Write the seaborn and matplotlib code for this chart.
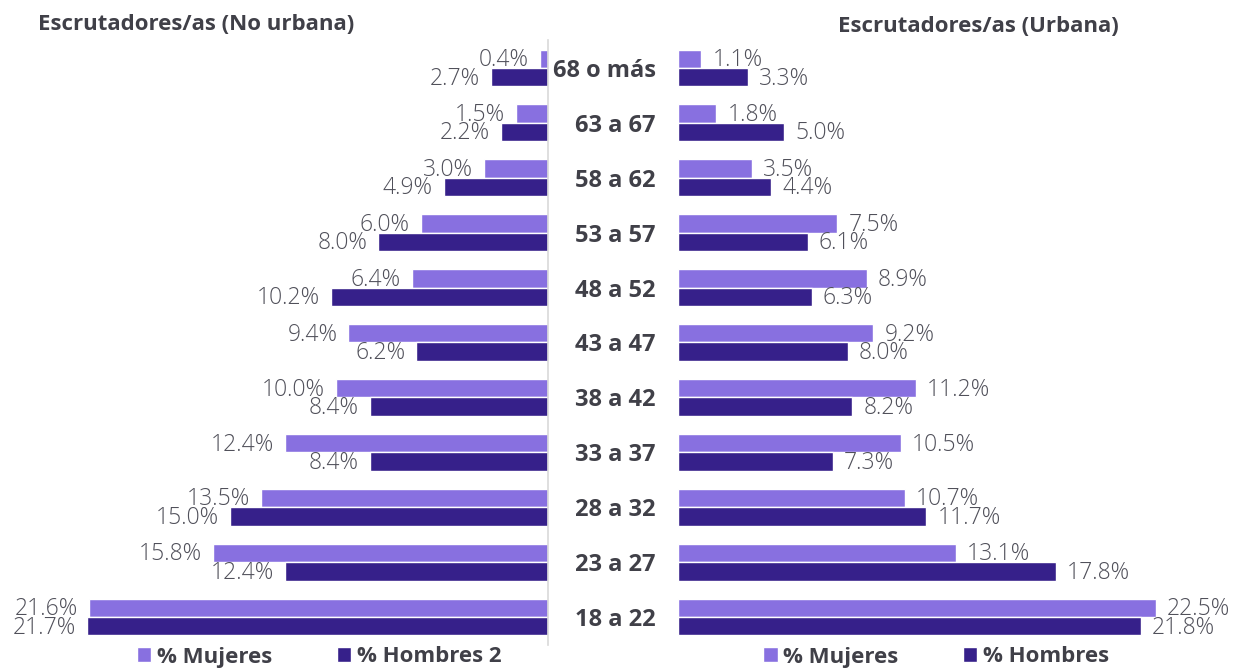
import pandas as pd
import seaborn as sns
import matplotlib.pyplot as plt

# Age groups, top to bottom
grupos = ["68 o más", "63 a 67", "58 a 62", "53 a 57", "48 a 52", "43 a 47",
          "38 a 42", "33 a 37", "28 a 32", "23 a 27", "18 a 22"]

# No urbana
nu_mujeres = [0.4, 1.5, 3.0, 6.0, 6.4, 9.4, 10.0, 12.4, 13.5, 15.8, 21.6]
nu_hombres = [2.7, 2.2, 4.9, 8.0, 10.2, 6.2, 8.4, 8.4, 15.0, 12.4, 21.7]

# Urbana
u_mujeres = [1.1, 1.8, 3.5, 7.5, 8.9, 9.2, 11.2, 10.5, 10.7, 13.1, 22.5]
u_hombres = [3.3, 5.0, 4.4, 6.1, 6.3, 8.0, 8.2, 7.3, 11.7, 17.8, 21.8]

c_mujeres = "#8870E0"
c_hombres = "#36208A"
txt_dark = "#404048"
txt_val = "#50505A"

sns.set_style("white")
plt.rcParams["font.family"] = ["Open Sans", "DejaVu Sans"]


def to_long(mujeres, hombres, lab_m, lab_h):
    rows = []
    for g, m, h in zip(grupos, mujeres, hombres):
        rows.append({"grupo": g, "sexo": lab_m, "pct": m})
        rows.append({"grupo": g, "sexo": lab_h, "pct": h})
    return pd.DataFrame(rows)


df_nu = to_long(nu_mujeres, nu_hombres, "% Mujeres", "% Hombres 2")
df_u = to_long(u_mujeres, u_hombres, "% Mujeres", "% Hombres")

W, H = 1236, 670
fig = plt.figure(figsize=(W / 100, H / 100), dpi=100)
bottom = 1 - 644.5 / H
height = 604 / H
ax_l = fig.add_axes([30 / W, bottom, 518 / W, height])
ax_r = fig.add_axes([678 / W, bottom, 518 / W, height])

for ax, df, hues, legx, side in [
    (ax_l, df_nu, ["% Mujeres", "% Hombres 2"], 319 / W, -1),
    (ax_r, df_u, ["% Mujeres", "% Hombres"], 936 / W, 1),
]:
    sns.barplot(data=df, x="pct", y="grupo", hue="sexo", hue_order=hues,
                order=grupos, palette=[c_mujeres, c_hombres], orient="h",
                width=0.67, saturation=1, errorbar=None, ax=ax)
    ax.set_ylim(10.5, -0.5)
    # value labels at the outer end of each bar
    for cont in ax.containers:
        for p in cont.patches:
            ax.annotate(f"{p.get_width():.1f}%",
                        (p.get_width(), p.get_y() + p.get_height() / 2),
                        xytext=(side * 8, -1), textcoords="offset points",
                        ha="left" if side > 0 else "right", va="center",
                        fontsize=16.5, fontweight="light", color=txt_val,
                        annotation_clip=False)
    handles, labels = ax.get_legend_handles_labels()
    ax.legend(handles, labels, loc="center", bbox_to_anchor=(legx, 1 - 657 / H),
              bbox_transform=fig.transFigure, ncol=2, frameon=False,
              handlelength=0.65, handleheight=0.65, handletextpad=0.25,
              columnspacing=2.9, prop={"size": 16, "weight": "bold"},
              labelcolor=txt_dark)
    ax.set_xlabel("")
    ax.set_ylabel("")
    ax.set_xticks([])
    for s in ax.spines.values():
        s.set_visible(False)

ax_l.set_xlim(24.4, 0)
ax_r.set_xlim(0, 24.4)

ax_l.tick_params(axis="y", left=False, labelleft=False)
ax_l.spines["right"].set_visible(True)
ax_l.spines["right"].set_color("#D9D9D9")
ax_l.spines["right"].set_linewidth(1.2)

ax_r.tick_params(axis="y", length=0, pad=16)
for t in ax_r.get_yticklabels():
    t.set_fontweight("bold")
    t.set_fontsize(17)
    t.set_color(txt_dark)

fig.text(38 / W, 1 - 25 / H, "Escrutadores/as (No urbana)", ha="left", va="center",
         fontsize=16, fontweight="bold", color=txt_dark)
fig.text(838 / W, 1 - 27 / H, "Escrutadores/as (Urbana)", ha="left", va="center",
         fontsize=16, fontweight="bold", color=txt_dark)

fig.savefig("out.png", dpi=100)
